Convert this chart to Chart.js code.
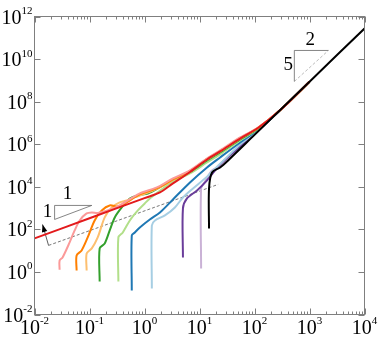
<!DOCTYPE html>
<html>
<head>
<meta charset="utf-8">
<script src="https://cdn.jsdelivr.net/npm/chart.js@4.4.1/dist/chart.umd.min.js"></script>
<style>
  html, body { margin: 0; padding: 0; background: #fff; }
  .preload { font-family: "Liberation Serif", "DejaVu Serif", serif; position: absolute; left: -999px; }
</style>
</head>
<body>
<span class="preload">10</span>
<canvas id="chart" width="380" height="338"></canvas>
<script>
// curves as [x, y] pairs
const pink = [[0.0286,1.27],[0.0286,3.47],[0.0324,4.8],[0.0435,24.3],[0.0537,88.9],[0.0662,262],[0.0887,560],[0.110,624],[0.141,590],[0.214,774],[0.355,1330],[0.822,4860],[1.68,9310],[3.29,24700],[6.71,58600],[13.7,214000],[23.7,509000],[54.8,2.08e6],[117,6.1e6],[294,4.0e7],[1000,8.66e8]];
const red = [[0.01,37.5],[0.1,332],[1,2940],[1.91,5430],[3.29,14400],[6.71,49800],[13.7,192000],[23.7,457000],[54.8,1.85e6],[117,5.9e6],[294,4.0e7],[1000,8.66e8]];
const orange = [[0.0583,1.17],[0.0583,5.96],[0.0719,10.2],[0.0927,41.7],[0.124,262],[0.167,774],[0.233,1330],[0.327,1190],[0.438,1650],[0.822,4370],[1.68,8360],[3.29,22100],[6.71,55500],[13.7,203000],[23.7,482000],[54.8,1.97e6],[117,6.0e6],[294,4.0e7],[1000,8.66e8]];
const lightOrange = [[0.0887,1.17],[0.0887,7.4],[0.110,12.7],[0.141,41.7],[0.189,363],[0.254,1070],[0.355,1840],[0.476,2280],[0.822,3920],[1.68,7910],[3.29,20900],[6.71,52600],[13.7,192000],[23.7,457000],[54.8,1.85e6],[117,5.8e6],[294,4.0e7],[1000,8.66e8]];
const green = [[0.153,0.358],[0.153,12.7],[0.189,21.8],[0.233,88.9],[0.288,363],[0.386,1070],[0.541,2830],[0.757,3920],[1.15,4860],[1.68,7910],[3.29,22100],[6.71,49800],[13.7,172600],[23.7,410000],[54.8,1.67e6],[117,5.5e6],[294,4.0e7],[1000,8.66e8]];
const lightGreen = [[0.335,0.358],[0.335,41.7],[0.403,71.6],[0.541,262],[0.757,774],[1.01,1650],[1.25,2830],[1.91,6500],[3.29,17800],[6.71,42400],[13.7,139000],[23.7,330000],[54.8,1.5e6],[117,5.2e6],[294,4.0e7],[1000,8.66e8]];
const blue = [[0.587,0.135],[0.587,51.8],[0.667,71.6],[0.822,123],[1.25,292],[1.91,624],[3.29,2540],[6.71,16000],[13.7,81000],[23.7,239000],[54.8,1.21e6],[117,4.93e6],[294,4.0e7],[1000,8.66e8]];
const lightBlue = [[1.36,0.168],[1.36,153],[1.55,262],[2.35,451],[3.57,1070],[5.0,3160],[7.62,8360],[13.7,30000],[23.7,120000],[54.8,975000],[117,4.67e6],[294,4.0e7],[1000,8.66e8]];
const purple = [[5.0,4.8],[5.0,962],[5.92,2830],[9.02,6730],[13.7,19900],[23.7,112000],[54.8,785000],[117,4.43e6],[294,4.0e7],[1000,8.66e8]];
const lightPurple = [[10.7,1.46],[10.7,8360],[12.6,17800],[16.9,58600],[23.7,95300],[54.8,705000],[117,4.2e6],[294,4.0e7],[1000,8.66e8]];
const black = [[14.9,110],[14.9,8360],[16.9,47200],[23.7,81000],[33.1,172600],[100,2.74e6],[1000,8.66e8],[10000,2.74e11]];

// guide marks (data coordinates)
const slopeOneTri = [[0.0232,292],[0.0232,1330],[0.110,1330],[0.0232,292]];
const slopeFiveHalfTri = [[530,8.87e8],[530,2.54e10],[2208,2.54e10]];
const slopeFiveHalfHyp = [[530,8.87e8],[2208,2.54e10]];
const refLine = [[0.018,17.6],[21.8,12900]];
const arrowStem = [[0.018,17.6],[0.014,170]];
const triLabels = [["1",0.040,4370],["1",0.0173,624],["2",1035,7.5e10],["5",411,5.0e9]];

// tick label exponents
const xTickExp = [-2,-1,0,1,2,3,4];
const yTickExp = [-2,0,2,4,6,8,10,12];

const SERIF = '"Liberation Serif", "DejaVu Serif", "Times New Roman", serif';

const pts = a => a.map(p => ({x: p[0], y: p[1]}));
function curve(data, color, order) {
  return { data: pts(data), borderColor: color, borderWidth: 2, pointRadius: 0, tension: 0.3, order: order };
}
function guide(data, color, dash, order) {
  return { data: pts(data), borderColor: color, borderWidth: 0.8, borderDash: dash, pointRadius: 0, tension: 0, order: order };
}

const frame = {
  id: 'frame',
  afterDatasetsDraw(chart) {
    const {ctx, chartArea: a, scales: {x, y}} = chart;
    ctx.save();
    ctx.strokeStyle = '#7f7f7f';
    ctx.lineWidth = 1;
    ctx.beginPath();
    const line = (x1, y1, x2, y2) => { ctx.moveTo(x1, y1); ctx.lineTo(x2, y2); };
    xTickExp.forEach(e => {
      const px = Math.round(x.getPixelForValue(Math.pow(10, e))) + 0.5;
      line(px, a.bottom, px, a.bottom - 6);
      line(px, a.top, px, a.top + 6);
      if (e < xTickExp[xTickExp.length - 1]) {
        for (let k = 2; k <= 9; k++) {
          const mx = Math.round(x.getPixelForValue(k * Math.pow(10, e))) + 0.5;
          line(mx, a.bottom, mx, a.bottom - 3);
          line(mx, a.top, mx, a.top + 3);
        }
      }
    });
    yTickExp.forEach(e => {
      const py = Math.round(y.getPixelForValue(Math.pow(10, e))) + 0.5;
      line(a.left, py, a.left + 6, py);
      line(a.right, py, a.right - 6, py);
    });
    ctx.stroke();
    ctx.strokeRect(a.left, a.top, a.right - a.left, a.bottom - a.top);

    // arrow head
    const p0 = {x: x.getPixelForValue(arrowStem[0][0]), y: y.getPixelForValue(arrowStem[0][1])};
    const p1 = {x: x.getPixelForValue(arrowStem[1][0]), y: y.getPixelForValue(arrowStem[1][1])};
    const ang = Math.atan2(p1.y - p0.y, p1.x - p0.x);
    ctx.fillStyle = '#000';
    ctx.beginPath();
    ctx.moveTo(p1.x, p1.y);
    ctx.lineTo(p1.x - 8 * Math.cos(ang - 0.35), p1.y - 8 * Math.sin(ang - 0.35));
    ctx.lineTo(p1.x - 8 * Math.cos(ang + 0.35), p1.y - 8 * Math.sin(ang + 0.35));
    ctx.closePath();
    ctx.fill();

    // tick labels
    ctx.fillStyle = '#000';
    ctx.textBaseline = 'alphabetic';
    const big = '20px ' + SERIF, small = '11px ' + SERIF;
    const label = (e, left, base) => {
      ctx.font = big; ctx.textAlign = 'left';
      ctx.fillText('10', left, base);
      const w = ctx.measureText('10').width;
      ctx.font = small;
      ctx.fillText(String(e), left + w, base - 9.5);
    };
    const widthOf = e => {
      ctx.font = big; const w1 = ctx.measureText('10').width;
      ctx.font = small; const w2 = ctx.measureText(String(e)).width;
      return w1 + w2;
    };
    xTickExp.forEach(e => {
      const px = x.getPixelForValue(Math.pow(10, e));
      label(e, px - widthOf(e) / 2, 333.5);
    });
    yTickExp.forEach(e => {
      const py = y.getPixelForValue(Math.pow(10, e));
      label(e, 32.5 - widthOf(e), py + 7);
    });

    // slope labels
    ctx.font = '19px ' + SERIF;
    ctx.textAlign = 'center';
    ctx.textBaseline = 'middle';
    triLabels.forEach(t => {
      ctx.fillText(t[0], x.getPixelForValue(t[1]), y.getPixelForValue(t[2]));
    });
    ctx.restore();
  }
};

function draw() {
  new Chart(document.getElementById('chart'), {
    type: 'line',
    data: {
      datasets: [
        curve(black, '#000000', 0),
        curve(red, '#e31a1c', 1),
        curve(pink, '#fb9a99', 2),
        curve(orange, '#ff7f00', 3),
        curve(lightOrange, '#fdbf6f', 4),
        curve(green, '#33a02c', 5),
        curve(lightGreen, '#b2df8a', 6),
        curve(blue, '#1f78b4', 7),
        curve(lightBlue, '#a6cee3', 8),
        curve(purple, '#6a3d9a', 9),
        curve(lightPurple, '#cab2d6', 10),
        guide(slopeOneTri, '#666666', [], 20),
        guide(slopeFiveHalfTri, '#666666', [], 20),
        guide(slopeFiveHalfHyp, '#aaaaaa', [3, 2], 20),
        guide(refLine, '#555555', [3, 2], 20),
        guide(arrowStem, '#333333', [], 20)
      ]
    },
    options: {
      responsive: false,
      animation: false,
      events: [],
      layout: { padding: { top: 16.5, right: 15.5, left: 0, bottom: 0 } },
      plugins: { legend: { display: false }, tooltip: { enabled: false } },
      scales: {
        x: {
          type: 'logarithmic', min: 0.01, max: 10000,
          ticks: { display: false }, grid: { display: false }, border: { display: false },
          afterFit: s => { s.height = 23.5; }
        },
        y: {
          type: 'logarithmic', min: 0.01, max: 1e12,
          ticks: { display: false }, grid: { display: false }, border: { display: false },
          afterFit: s => { s.width = 34.5; }
        }
      }
    },
    plugins: [frame]
  });
}

if (document.fonts && document.fonts.load) {
  Promise.all([document.fonts.load('20px "Liberation Serif"'), document.fonts.load('11px "Liberation Serif"')])
    .then(draw, draw);
} else {
  draw();
}
</script>
</body>
</html>
